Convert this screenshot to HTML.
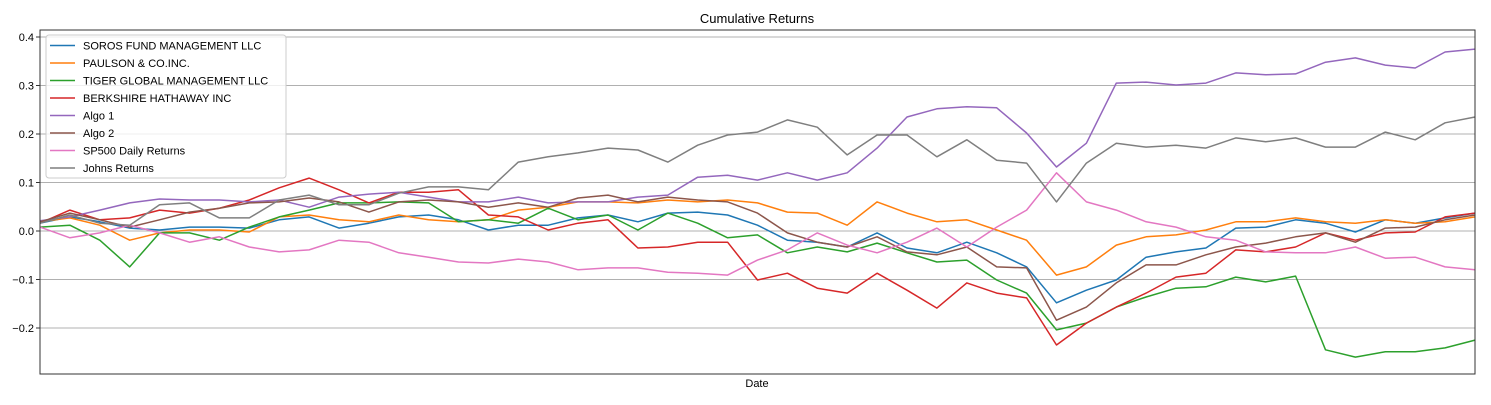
<!DOCTYPE html>
<html><head><meta charset="utf-8"><style>
body{margin:0;background:#fff;}
svg text{font-family:"Liberation Sans",sans-serif;fill:#000;}
</style></head><body>
<svg id="chart" width="1491" height="400" xmlns="http://www.w3.org/2000/svg">
<text x="757" y="23" font-size="13" text-anchor="middle">Cumulative Returns</text>
<g id="grid"></g><g id="yticks"></g><g id="lines"></g>
<rect x="40" y="30" width="1435" height="344" fill="none" stroke="#333" stroke-width="1"/>
<text x="757" y="387" font-size="11" text-anchor="middle">Date</text>
<g id="legend"></g>
</svg>
<script>
const yTicks=[0.4,0.3,0.2,0.1,0.0,-0.1,-0.2];
const yTickLabels=["0.4","0.3","0.2","0.1","0.0","\u22120.1","\u22120.2"];
const seriesNames=["SOROS FUND MANAGEMENT LLC","PAULSON & CO.INC.","TIGER GLOBAL MANAGEMENT LLC","BERKSHIRE HATHAWAY INC","Algo 1","Algo 2","SP500 Daily Returns","Johns Returns"];
const seriesColors=["#1f77b4","#ff7f0e","#2ca02c","#d62728","#9467bd","#8c564b","#e377c2","#7f7f7f"];
const soros=[.016,.029,.019,.006,.002,.008,.008,.006,.023,.029,.006,.016,.029,.033,.023,.002,.012,.012,.027,.033,.019,.037,.039,.033,.012,-.019,-.023,-.033,-.004,-.035,-.045,-.023,-.045,-.074,-.148,-.122,-.101,-.054,-.043,-.035,.006,.008,.023,.016,-.002,.023,.016,.027,.037];
const paulson=[.019,.027,.012,-.019,-.004,.002,.002,-.002,.029,.033,.023,.019,.033,.023,.019,.023,.043,.049,.060,.060,.058,.064,.060,.064,.058,.039,.037,.012,.060,.037,.019,.023,.002,-.019,-.091,-.074,-.029,-.012,-.008,.002,.019,.019,.027,.019,.016,.023,.016,.019,.029];
const tiger=[.008,.012,-.019,-.074,-.004,-.004,-.019,.008,.029,.043,.058,.058,.060,.058,.019,.023,.016,.047,.023,.033,.002,.037,.016,-.014,-.008,-.045,-.033,-.043,-.025,-.045,-.064,-.060,-.101,-.128,-.204,-.190,-.157,-.136,-.118,-.115,-.095,-.105,-.093,-.245,-.260,-.249,-.249,-.241,-.225];
const berkshire=[.016,.043,.023,.027,.043,.037,.047,.064,.089,.109,.085,.058,.080,.080,.085,.033,.029,.002,.016,.023,-.035,-.033,-.023,-.023,-.101,-.087,-.118,-.128,-.087,-.122,-.159,-.107,-.128,-.138,-.235,-.190,-.157,-.128,-.095,-.087,-.039,-.043,-.033,-.004,-.019,-.004,-.002,.029,.037];
const algo1=[.021,.029,.043,.058,.066,.064,.064,.060,.064,.049,.070,.076,.080,.070,.060,.060,.070,.058,.060,.060,.070,.074,.111,.115,.105,.120,.105,.120,.171,.235,.252,.256,.254,.202,.132,.181,.305,.307,.301,.305,.326,.322,.324,.348,.357,.342,.336,.369,.375];
const algo2=[.019,.037,.023,.008,.023,.039,.047,.058,.060,.068,.060,.039,.060,.064,.060,.049,.058,.049,.068,.074,.060,.070,.064,.060,.037,-.004,-.023,-.033,-.012,-.043,-.049,-.033,-.074,-.076,-.184,-.157,-.107,-.070,-.070,-.049,-.033,-.025,-.012,-.004,-.023,.006,.008,.023,.033];
const sp500=[.008,-.014,-.004,.012,-.004,-.023,-.012,-.033,-.043,-.039,-.019,-.023,-.045,-.054,-.064,-.066,-.058,-.064,-.080,-.076,-.076,-.085,-.087,-.091,-.060,-.039,-.004,-.029,-.045,-.023,.006,-.033,.008,.043,.120,.060,.043,.019,.008,-.012,-.019,-.043,-.045,-.045,-.033,-.056,-.054,-.074,-.080];
const johns=[.016,.033,.016,.012,.054,.058,.027,.027,.064,.074,.054,.054,.078,.091,.091,.085,.142,.153,.161,.171,.167,.142,.177,.198,.204,.229,.214,.157,.198,.198,.153,.188,.146,.140,.060,.140,.181,.173,.177,.171,.192,.184,.192,.173,.173,.204,.188,.223,.235];
const allSeries=[soros,paulson,tiger,berkshire,algo1,algo2,sp500,johns];
const NS="http://www.w3.org/2000/svg";
const X0=40,X1=1475;
function yScale(v){return 231-v*485;}
function xScale(i,n){return X0+i*(X1-X0)/(n-1);}
function mk(tag,attrs,parent){const e=document.createElementNS(NS,tag);for(const k in attrs)e.setAttribute(k,attrs[k]);parent.appendChild(e);return e;}
const grid=document.getElementById('grid'),yt=document.getElementById('yticks');
yTicks.forEach((t,i)=>{
 const y=yScale(t);
 const gl=mk('line',{x1:X0,x2:X1,y1:y,y2:y,stroke:'#b0b0b0','stroke-width':1},grid);
 
 
 const tk=mk('line',{x1:X0-4,x2:X0,y1:y,y2:y,stroke:'#333'},yt);
 
 
 const tx=mk('text',{x:X0-6,y:y+4,'font-size':11,'text-anchor':'end'},yt);
 tx.textContent=yTickLabels[i];
 
 
});
const lines=document.getElementById('lines');
allSeries.forEach((s,k)=>{
 const pts=s.map((v,i)=>xScale(i,s.length).toFixed(1)+','+yScale(v).toFixed(1)).join(' ');
 const pl=mk('polyline',{points:pts,fill:'none',stroke:seriesColors[k],'stroke-width':1.5,'stroke-linejoin':'round'},lines);
 
 
});
const lg=document.getElementById('legend');
const box=mk('rect',{x:46,y:35,width:240,height:143,rx:3,fill:'#fff','fill-opacity':0.8,stroke:'#ccc'},lg);


seriesNames.forEach((n,k)=>{
 const y=45.5+k*17.5;
 const l=mk('line',{x1:50,x2:75,y1:y,y2:y,stroke:seriesColors[k],'stroke-width':1.5},lg);
 
 
 const t=mk('text',{x:83,y:y+4,'font-size':11},lg);
 t.textContent=n;
 
 
});
</script>
</body></html>
